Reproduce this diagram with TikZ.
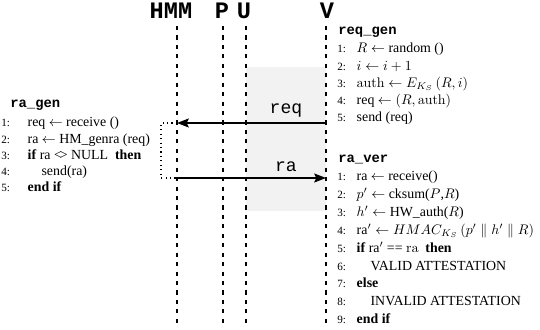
\documentclass[tikz,border=0pt]{standalone}
\usepackage[no-math]{fontspec}
\setmainfont{Liberation Serif}
\setmonofont{Liberation Mono}
\usetikzlibrary{arrows.meta}

% numbered algorithm line: \lnum[box width]{number}
\newcommand{\lnum}[2][13pt]{\makebox[#1][l]{\footnotesize #2:}}

\begin{document}
\begin{tikzpicture}[x=.72pt,y=-.72pt,>={Stealth[length=8.5pt,width=6.5pt,inset=1.5pt]},
  actor/.style={font=\fontsize{17}{19}\selectfont\ttfamily\bfseries},
  life/.style={line width=.9pt,dash pattern=on 3pt off 3.8pt},
  msg/.style={line width=.8pt,->},
  msglbl/.style={anchor=base,inner sep=0pt,font=\fontsize{13}{15}\selectfont\ttfamily},
  proc/.style={anchor=base west,inner sep=0pt,font=\ttfamily\bfseries},
  algo/.style={anchor=base west,inner sep=0pt}]
 \useasboundingbox (0,0) rectangle (540,330);
 % shaded window of the exchange
 \fill[gray!10] (246,67) rectangle (326,211);
 % parties
 \node[actor] (hmm) at (171,11) {HMM};
 \node[actor] (p) at (222,11) {P};
 \node[actor] (u) at (244,11) {U};
 \node[actor] (v) at (327,11) {V};
 \foreach \n/\x in {hmm/177,p/223,u/246,v/326}{
   \coordinate (\n top) at (\x,26);
   \coordinate (\n bot) at (\x,327);
   \draw[life] (\n top) -- (\n bot);
 }
 % messages
 \coordinate (req v) at (326,123);
 \coordinate (req h) at (177,123);
 \coordinate (ra h) at (177,178);
 \coordinate (ra v) at (326,178);
 \draw[msg] (req v) -- (req h);
 \draw[msg] (ra h) -- (ra v);
 \node[msglbl] (req lbl) at (286,114) {req};
 \node[msglbl] (ra lbl) at (286,172) {ra};
 % HMM turns req into ra
 \coordinate (loop a) at (161,123);
 \coordinate (loop b) at (161,178);
 \draw[line width=.8pt,dash pattern=on .8pt off 2.4pt] (req h) -- (loop a) -- (loop b) -- (ra h);
 % ra_gen on HMM
 \node[proc] (ragen hd) at (10,108) {ra\_gen};
 \node[algo] (ragen) at (1,127) {\def\arraystretch{.975}%
  \begin{tabular}[t]{@{}l@{}}
   \lnum[19pt]{1}req $\leftarrow$ receive ()\\
   \lnum[19pt]{2}ra $\leftarrow$ HM\_genra (req)\\
   \lnum[19pt]{3}\textbf{if} ra <\kern-1.5pt> NULL\ \ \textbf{then}\\
   \lnum[19pt]{4}\hspace*{1em}send(ra)\\
   \lnum[19pt]{5}\textbf{end if}
  \end{tabular}};
 % req_gen on V
 \node[proc] (reqgen hd) at (338,35) {req\_gen};
 \node[algo] (reqgen) at (337,53) {\def\arraystretch{1.035}%
  \begin{tabular}[t]{@{}l@{}}
   \lnum[14pt]{1}$R \leftarrow$ random ()\\
   \lnum[14pt]{2}$i \leftarrow i+1$\\
   \lnum[14pt]{3}$\mathrm{auth} \leftarrow E_{K_S}\,(R,i)$\\
   \lnum[14pt]{4}req $\leftarrow (R,\mathrm{auth})$\\
   \lnum[14pt]{5}send (req)
  \end{tabular}};
 % ra_ver on V
 \node[proc] (raver hd) at (338,163) {ra\_ver};
 \node[algo] (raver) at (337,181) {\def\arraystretch{1.07}%
  \begin{tabular}[t]{@{}l@{}}
   \lnum[14pt]{1}ra $\leftarrow$ receive()\\
   \lnum[14pt]{2}$p' \leftarrow$ cksum($P$,$R$)\\
   \lnum[14pt]{3}$h' \leftarrow$ HW\_auth($R$)\\
   \lnum[14pt]{4}ra$' \leftarrow HMAC_{K_S}\,(p' \parallel h' \parallel R)$\\
   \lnum[14pt]{5}\textbf{if} ra$'$ == $\mathrm{ra}$\ \ \textbf{then}\\
   \lnum[14pt]{6}\hspace*{1em}VALID ATTESTATION\\
   \lnum[14pt]{7}\textbf{else}\\
   \lnum[14pt]{8}\hspace*{1em}INVALID ATTESTATION\\
   \lnum[14pt]{9}\textbf{end if}
  \end{tabular}};
\end{tikzpicture}
\end{document}
